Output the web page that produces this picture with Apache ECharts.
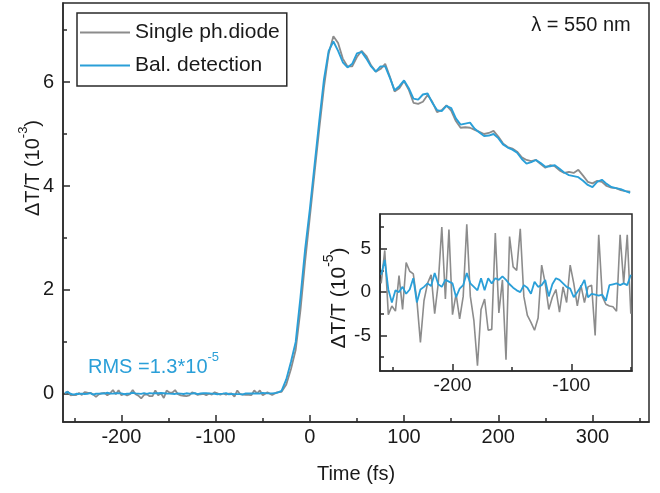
<!DOCTYPE html>
<html><head><meta charset="utf-8">
<script src="https://cdn.jsdelivr.net/npm/echarts@6/dist/echarts.min.js"></script>
<style>html,body{margin:0;padding:0;background:#fff}#c{width:660px;height:493px}</style>
</head><body><div id="c"></div>
<script>
const FONT = '"Liberation Sans", Arial, sans-serif';
const GRAY = '#8c8c8c';
const BLUE = '#2a9fd8';
const INK = '#1a1a1a';

// Baseline (negative delay) region, units of 1e-5 (shown in inset)
const baseTime = [-260,-257,-254,-251,-248,-245,-242,-239,-236,-233,-230,-227,-224,-221,-218,-215,-212,-209,-206,-203,-200,-197,-194,-191,-188,-185,-182,-179,-176,-173,-170,-167,-164,-161,-158,-155,-152,-149,-146,-143,-140,-137,-134,-131,-128,-125,-122,-119,-116,-113,-110,-107,-104,-101,-98,-95,-92,-89,-86,-83,-80,-77,-74,-71,-68,-65,-62,-59,-56,-53,-50];
const baseSingle = [1.0,4.8,-2.6,-1.6,-2.2,1.9,-2.0,3.4,2.4,2.1,
  -0.9,-5.8,-1.0,1.0,2.0,-2.5,1.0,7.5,-0.8,7.2,
  -2.6,-0.2,-3.1,-0.5,7.8,-0.5,-3.3,-8.5,-2.0,-0.8,
  -4.4,-4.3,6.8,-2.4,1.4,-7.8,6.4,2.9,2.5,7.3,
  -0.5,-2.7,-3.5,-4.4,-3.0,3.1,1.0,-2.0,-0.6,0.3,
  -2.3,0.6,-1.2,3.1,1.0,-1.6,0.8,-1.2,0.6,0.8,
  -5.0,6.6,-0.5,-1.4,-1.6,-1.7,-2.2,6.6,1.0,6.6,
  -2.5];
const baseBal = [2.0,3.7,0.3,-1.2,0.2,0.0,0.6,-0.2,0.3,1.6,
  -1.2,0.3,0.6,1.0,0.7,2.2,0.9,0.6,1.4,1.2,
  1.0,-0.6,0.4,0.8,2.2,1.0,0.6,0.2,1.6,0.2,
  1.6,1.0,1.6,1.4,1.8,1.4,0.9,0.5,0.2,0.0,
  0.8,0.5,-0.2,1.2,0.6,0.8,1.4,-0.5,0.9,1.6,
  1.4,1.0,0.6,0.4,-0.6,0.0,0.6,1.4,-0.6,-0.2,
  -0.3,-0.4,-0.3,-1.0,0.8,0.9,1.0,0.8,1.0,0.8,
  2.0];

// Transient region, units of 1e-3
const mainTime = [-45,-40,-35,-30,-25,-20,-15,-10,-5,0,5,10,15,20,25,30,35,40,45,50,55,60,65,70,75,80,85,90,95,100,105,110,115,120,125,130,135,140,145,150,155,160,165,170,175,180,185,190,195,200,205,210,215,220,225,230,235,240,245,250,255,260,265,270,275,280,285,290,295,300,305,310,315,320,325,330,335,340];
const mainSingle = [0.03,-0.02,0.03,0.04,0.18,0.48,0.85,1.6,2.55,3.4,
  4.25,5.1,5.9,6.55,6.88,6.75,6.45,6.3,6.3,6.48,
  6.6,6.5,6.32,6.2,6.25,6.35,6.1,5.82,5.88,6.02,
  5.85,5.6,5.58,5.62,5.75,5.62,5.42,5.46,5.55,5.45,
  5.25,5.12,5.13,5.12,5.08,5.04,5.0,5.02,5.06,4.95,
  4.82,4.75,4.72,4.66,4.55,4.5,4.48,4.5,4.42,4.35,
  4.4,4.38,4.3,4.25,4.27,4.25,4.31,4.2,4.08,4.05,
  4.1,4.08,4.0,3.97,3.96,3.92,3.9,3.89];
const mainBal = [0.01,0.01,0.02,0.06,0.28,0.62,1.0,1.85,2.78,3.55,
  4.4,5.25,6.05,6.6,6.78,6.6,6.38,6.28,6.35,6.55,
  6.58,6.45,6.3,6.2,6.3,6.3,6.08,5.84,5.92,6.03,
  5.88,5.68,5.66,5.76,5.78,5.6,5.46,5.44,5.54,5.5,
  5.3,5.18,5.2,5.22,5.1,5.03,4.96,4.97,5.0,4.92,
  4.8,4.74,4.7,4.64,4.52,4.43,4.46,4.5,4.44,4.37,
  4.38,4.4,4.33,4.26,4.21,4.19,4.17,4.1,4.02,3.98,
  4.08,4.12,4.04,3.98,3.96,3.94,3.9,3.87];

const mainXTicks = [-200,-100,0,100,200,300];
const mainXMinor = [-250,-150,-50,50,150,250,350];
const mainYTicks = [0,2,4,6];
const mainYMinor = [1,3,5,7];
const insetXTicks = [-200,-100];
const insetXMinor = [-250,-150,-50];
const insetYTicks = [-5,0,5];
const insetYMinor = [-7.5,-2.5,2.5,7.5];

const seriesNames = ['Single ph.diode','Bal. detection'];

function mainData(base, main) {
  const d = baseTime.map((t, i) => [t, base[i] / 100]);
  return d.concat(mainTime.map((t, i) => [t, main[i]]));
}
function insetData(base) { return baseTime.map((t, i) => [t, base[i]]); }

const AX = {color: '#2a2a2a', width: 1.5};
function axis(dim, grid, min, max, ticks, len, opts) {
  const pos = dim === 'x' ? 'bottom' : 'left';
  const o = {
    type: 'value', gridIndex: grid, position: pos, min: min, max: max,
    axisLine: {show: true, onZero: false, lineStyle: AX},
    axisTick: {show: true, inside: true, length: len, customValues: ticks, lineStyle: AX},
    axisLabel: {show: false},
    splitLine: {show: false}
  };
  return Object.assign(o, opts || {});
}
function lbl(ticks, size, margin) {
  return {show: true, customValues: ticks, fontSize: size, fontFamily: FONT, color: INK, margin: margin};
}

const chart = echarts.init(document.getElementById('c'), null, {renderer: 'canvas'});
chart.setOption({
  animation: false,
  backgroundColor: '#fff',
  grid: [
    {left: 63, top: 3, right: 11, bottom: 71, show: true, borderColor: '#2a2a2a', borderWidth: 1.5, containLabel: false},
    {left: 380, top: 214, width: 252, height: 157, show: true, borderColor: '#2a2a2a', borderWidth: 1.5, backgroundColor: '#fff', containLabel: false}
  ],
  xAxis: [
    axis('x', 0, -262, 360, mainXTicks, 7, {axisLabel: lbl(mainXTicks, 20, 5), name: 'Time (fs)', nameLocation: 'middle', nameGap: 42, nameTextStyle: {fontSize: 20, fontFamily: FONT, color: INK}}),
    axis('x', 0, -262, 360, mainXMinor, 4, {axisLine: {show: false, onZero: false}}),
    axis('x', 1, -261, -49, insetXTicks, 7, {axisLabel: lbl(insetXTicks, 19, 5)}),
    axis('x', 1, -261, -49, insetXMinor, 4, {axisLine: {show: false, onZero: false}})
  ],
  yAxis: [
    axis('y', 0, -0.54, 7.52, mainYTicks, 7, {axisLabel: lbl(mainYTicks, 20, 9)}),
    axis('y', 0, -0.54, 7.52, mainYMinor, 4, {axisLine: {show: false, onZero: false}}),
    axis('y', 1, -9.1, 9.0, insetYTicks, 7, {axisLabel: lbl(insetYTicks, 19, 9)}),
    axis('y', 1, -9.1, 9.0, insetYMinor, 4, {axisLine: {show: false, onZero: false}})
  ],
  legend: {
    show: true,
    data: seriesNames, orient: 'vertical', left: 77, top: 13,
    itemWidth: 50, itemHeight: 14, itemGap: 12,
    padding: [9, 7, 10, 2],
    borderColor: '#2a2a2a', borderWidth: 1.5, backgroundColor: '#fff',
    itemStyle: {opacity: 0},
    lineStyle: {width: 2},
    textStyle: {fontSize: 21, fontFamily: FONT, color: INK},
    selectedMode: false
  },
  series: [
    {name: seriesNames[0], type: 'line', xAxisIndex: 0, yAxisIndex: 0, data: mainData(baseSingle, mainSingle), symbol: 'none', lineStyle: {color: GRAY, width: 1.8}, itemStyle: {color: GRAY}, z: 2},
    {name: seriesNames[1], type: 'line', xAxisIndex: 0, yAxisIndex: 0, data: mainData(baseBal, mainBal), symbol: 'none', lineStyle: {color: BLUE, width: 1.9}, itemStyle: {color: BLUE}, z: 3},
    {name: seriesNames[0], type: 'line', xAxisIndex: 2, yAxisIndex: 2, data: insetData(baseSingle), symbol: 'none', lineStyle: {color: GRAY, width: 1.6}, itemStyle: {color: GRAY}, z: 4},
    {name: seriesNames[1], type: 'line', xAxisIndex: 2, yAxisIndex: 2, data: insetData(baseBal), symbol: 'none', lineStyle: {color: BLUE, width: 1.8}, itemStyle: {color: BLUE}, z: 5}
  ],
  graphic: [
    {type: 'text', x: 30, y: 168, rotation: Math.PI / 2,
      style: {text: '{a|ΔT/T (10}{s|-3}{a|)}', align: 'center', verticalAlign: 'middle',
        rich: {a: {fontSize: 20, fontFamily: FONT, fill: INK, color: INK, lineHeight: 26, verticalAlign: 'bottom'},
               s: {fontSize: 13, fontFamily: FONT, fill: INK, color: INK, verticalAlign: 'top'}}}},
    {type: 'text', x: 336, y: 298, rotation: Math.PI / 2,
      style: {text: '{a|ΔT/T (10}{s|-5}{a|)}', align: 'center', verticalAlign: 'middle',
        rich: {a: {fontSize: 21, fontFamily: FONT, fill: INK, color: INK, lineHeight: 27, verticalAlign: 'bottom'},
               s: {fontSize: 14, fontFamily: FONT, fill: INK, color: INK, verticalAlign: 'top'}}}},
    {type: 'text', x: 581, y: 25,
      style: {text: 'λ = 550 nm', align: 'center', verticalAlign: 'middle', fontSize: 20, fontFamily: FONT, fill: INK}},
    {type: 'text', x: 88, y: 364,
      style: {text: '{a|RMS =1.3*10}{s|-5}', align: 'left', verticalAlign: 'middle',
        rich: {a: {fontSize: 20, fontFamily: FONT, fill: BLUE, color: BLUE, lineHeight: 26, verticalAlign: 'bottom'},
               s: {fontSize: 13, fontFamily: FONT, fill: BLUE, color: BLUE, verticalAlign: 'top'}}}}
  ]
});
</script></body></html>
